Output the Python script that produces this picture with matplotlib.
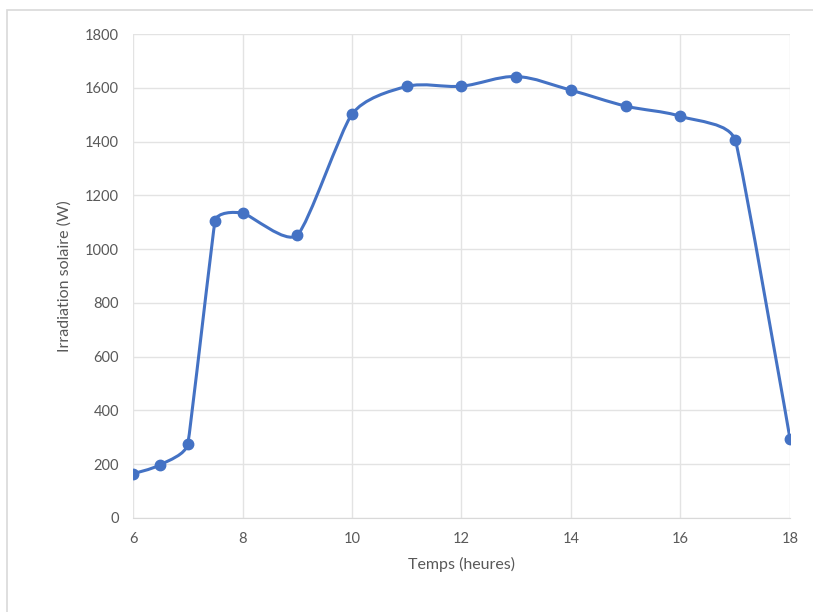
import matplotlib.pyplot as plt
from matplotlib.path import Path
from matplotlib.patches import PathPatch, Rectangle

# Data
heures = [6, 6.5, 7, 7.5, 8, 9, 10, 11, 12, 13, 14, 15, 16, 17, 18]
irradiation = [165, 198, 275, 1106, 1134, 1052, 1502, 1605, 1606, 1642, 1591, 1532, 1494, 1405, 295]

y_ticks = [0, 200, 400, 600, 800, 1000, 1200, 1400, 1600, 1800]
x_ticks = [6, 8, 10, 12, 14, 16, 18]

blue = "#4472C4"
grey_txt = "#595959"
plt.rcParams['font.family'] = ['Lato', 'DejaVu Sans']

fig = plt.figure(figsize=(8.13, 6.12), dpi=100)
ax = fig.add_axes([0.1636, 0.1536, 0.8081, 0.7908])

# Excel-like smoothed line: cubic Bezier segments, tangent lengths limited
# by the shorter neighbouring chord (screen-like units so the aspect is right)
sx, sy = 657 / 12, 484 / 1800
pts = [(x * sx, y * sy) for x, y in zip(heures, irradiation)]


def dist(a, b):
    return ((a[0] - b[0]) ** 2 + (a[1] - b[1]) ** 2) ** 0.5


verts = [pts[0]]
codes = [Path.MOVETO]
n = len(pts)
for i in range(n - 1):
    p0 = pts[i - 1] if i > 0 else pts[i]
    p1 = pts[i]
    p2 = pts[i + 1]
    p3 = pts[i + 2] if i + 2 < n else pts[i + 1]
    d12 = dist(p1, p2)
    if i > 0:
        d01 = dist(p0, p1)
        f1 = min(d01, d12) / (d01 + d12) / 1.5
    else:
        f1 = 0
    if i + 2 < n:
        d23 = dist(p2, p3)
        f2 = min(d23, d12) / (d23 + d12) / 1.5
    else:
        f2 = 0
    c1 = (p1[0] + (p2[0] - p0[0]) * f1 / 2, p1[1] + (p2[1] - p0[1]) * f1 / 2)
    c2 = (p2[0] - (p3[0] - p1[0]) * f2 / 2, p2[1] - (p3[1] - p1[1]) * f2 / 2)
    verts += [c1, c2, p2]
    codes += [Path.CURVE4] * 3
verts = [(x / sx, y / sy) for x, y in verts]
ax.add_patch(PathPatch(Path(verts, codes), facecolor='none', edgecolor=blue,
                       lw=2.2, zorder=3, capstyle='round', joinstyle='round'))
ax.plot(heures, irradiation, 'o', color=blue, ms=7.5, zorder=4)

ax.set_xlim(6, 18)
ax.set_ylim(0, 1800)
ax.set_xticks(x_ticks)
ax.set_yticks(y_ticks)
ax.grid(True, color='#e3e3e3', lw=1)
ax.set_axisbelow(True)
for s in ['top', 'right', 'left']:
    ax.spines[s].set_visible(False)
ax.spines['bottom'].set_color('#d9d9d9')
ax.tick_params(length=0, colors=grey_txt, labelsize=10.5, pad=10)
ax.set_xlabel('Temps (heures)', color=grey_txt, fontsize=11.5, labelpad=8)
ax.set_ylabel('Irradiation solaire (W)', color=grey_txt, fontsize=11.5, labelpad=10)

# chart area border
fig.patches.append(Rectangle((7 / 813, -0.1), 1.2, 1 - 10 / 612 + 0.1, transform=fig.transFigure,
                             fill=False, edgecolor='#d9d9d9', lw=1.2))

plt.savefig("out.png")
plt.close()
